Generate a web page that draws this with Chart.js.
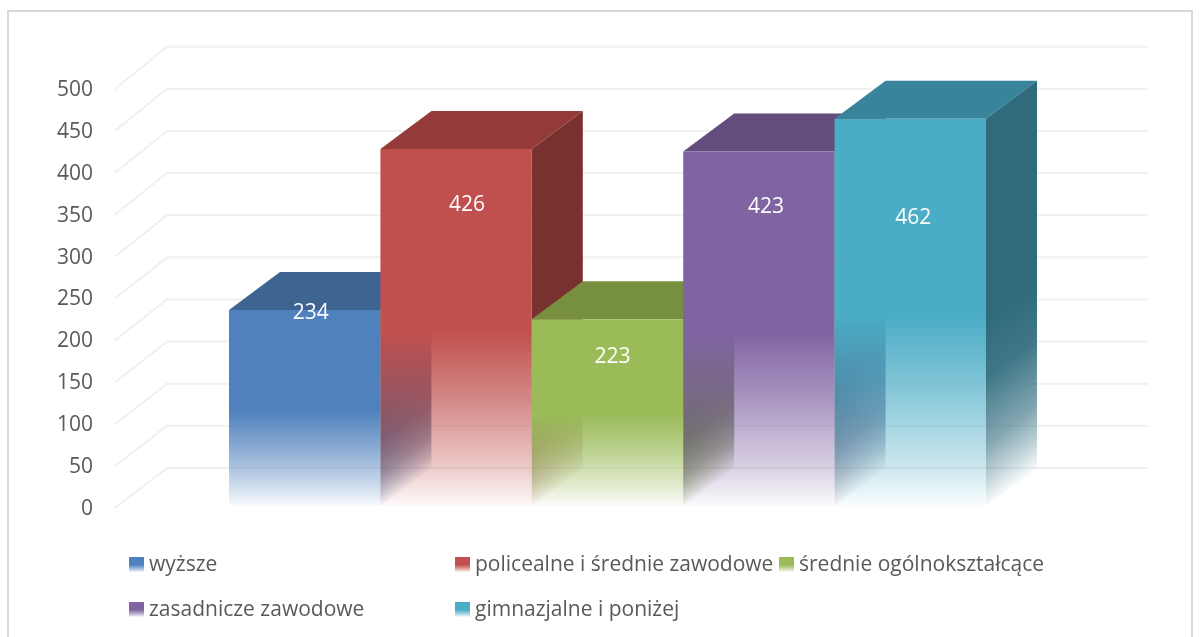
<!DOCTYPE html>
<html lang="pl">
<head>
<meta charset="utf-8">
<style>html,body{margin:0;padding:0;background:#fff}canvas{display:block}</style>
<script src="https://cdn.jsdelivr.net/npm/chart.js@4"></script>
</head>
<body>
<canvas id="c" width="1200" height="637"></canvas>
<script>
const categories = [""];
const seriesNames = ["wyższe", "policealne i średnie zawodowe", "średnie ogólnokształcące", "zasadnicze zawodowe", "gimnazjalne i poniżej"];
const seriesValues = [234, 426, 223, 423, 462];
const frontColors = ["79,129,189", "192,80,77", "155,187,89", "128,100,162", "75,172,198"];
const topColors = ["#3e6491", "#943b39", "#76903f", "#624d7d", "#38849a"];
const sideColors = ["#3a5f8b", "#78312f", "#61763a", "#4f3e66", "#2f6b7d"];
const tickStep = 50, axisMax = 500;

const DX = 51, DY = -38;
const labelShift = [[6, 3], [11, 56], [5, 38], [7, 55], [3, 99]];
const legendSlots = [[129, 564], [455, 564], [779, 564], [129, 609], [455, 609]];
const FONT = '"Open Sans", sans-serif';
const FRONT_STOPS = [[0, 1], [0.51, 1], [0.7, 0.68], [0.89, 0.3], [1, 0.03]];
const SIDE_STOPS = [[0, 1], [0.51, 1], [0.67, 0.92], [0.84, 0.6], [0.93, 0.3], [1, 0.03]];

function fade(ctx, y0, y1, rgb, stops) {
  const g = ctx.createLinearGradient(0, y0, 0, y1);
  stops.forEach(s => g.addColorStop(s[0], `rgba(${rgb},${s[1]})`));
  return g;
}
function hexToRgb(h) {
  const n = parseInt(h.slice(1), 16);
  return [(n >> 16) & 255, (n >> 8) & 255, n & 255].join(",");
}
function drawDepth(chart, i) {
  const ctx = chart.ctx, b = chart.getDatasetMeta(i).data[0];
  const l = b.x - b.width / 2, r = b.x + b.width / 2, t = b.y, h = b.base - b.y;
  ctx.save();
  ctx.fillStyle = topColors[i];
  ctx.beginPath();
  ctx.moveTo(l, t); ctx.lineTo(r, t); ctx.lineTo(r + DX, t + DY); ctx.lineTo(l + DX, t + DY);
  ctx.closePath(); ctx.fill();
  ctx.transform(1, DY / DX, 0, 1, r, t);
  ctx.fillStyle = fade(ctx, 0, h, hexToRgb(sideColors[i]), SIDE_STOPS);
  ctx.fillRect(0, 0, DX, h);
  ctx.restore();
}

const scene3d = {
  id: "scene3d",
  afterLayout(chart) {
    const s = chart.scales.y;
    if (s._shifted) return;
    s._shifted = true;
    const orig = s.drawLabels;
    s.drawLabels = function (area) {
      this.ctx.save();
      this.ctx.translate(0, 3);
      orig.call(this, area);
      this.ctx.restore();
    };
  },
  beforeDraw(chart) {
    const ctx = chart.ctx, y = chart.scales.y, a = chart.chartArea;
    ctx.save();
    ctx.strokeStyle = "#d9d9d9"; ctx.lineWidth = 2;
    ctx.strokeRect(8, 11, 1184, 700);
    ctx.strokeStyle = "#f0f0f0"; ctx.lineWidth = 2;
    y.ticks.forEach(t => {
      const p = y.getPixelForValue(t.value);
      const back = p + DY - (t.value / axisMax) * 2.3;
      ctx.beginPath();
      ctx.moveTo(a.left - 3, p + 2);
      ctx.lineTo(a.left + 49, back);
      ctx.lineTo(a.right + DX, back);
      ctx.stroke();
    });
    ctx.restore();
  },
  beforeDatasetsDraw(chart) {
    seriesNames.forEach((n, i) => {
      drawDepth(chart, i);
      chart.getDatasetMeta(i).controller.draw();
    });
    return false;
  },
  afterDraw(chart) {
    const ctx = chart.ctx;
    ctx.save();
    ctx.font = "21px " + FONT;
    ctx.textBaseline = "middle";
    seriesValues.forEach((v, i) => {
      const b = chart.getDatasetMeta(i).data[0];
      ctx.fillStyle = "#ffffff";
      ctx.textAlign = "center";
      ctx.fillText(String(v), b.x + labelShift[i][0], b.y + labelShift[i][1]);
    });
    seriesNames.forEach((n, i) => {
      const [x, y] = legendSlots[i];
      ctx.fillStyle = fade(ctx, y - 7, y + 8, frontColors[i], FRONT_STOPS);
      ctx.fillRect(x, y - 7, 15, 15);
      ctx.fillStyle = "#595959";
      ctx.textAlign = "left";
      ctx.fillText(n, x + 20, y + 1);
    });
    ctx.restore();
  }
};

function barGradient(c, i, stops) {
  const y = c.chart.scales.y;
  if (!c.chart.chartArea) return `rgb(${frontColors[i]})`;
  return fade(c.chart.ctx, y.getPixelForValue(seriesValues[i]), y.getPixelForValue(0), frontColors[i], stops);
}

new Chart(document.getElementById("c"), {
  type: "bar",
  data: {
    labels: categories,
    datasets: seriesNames.map((n, i) => ({
      label: n,
      data: [seriesValues[i]],
      borderWidth: 0,
      backgroundColor: c => barGradient(c, i, FRONT_STOPS)
    }))
  },
  plugins: [scene3d],
  options: {
    responsive: false,
    animation: false,
    devicePixelRatio: 1,
    layout: { padding: { top: 87, bottom: 131, right: 103, left: 0 } },
    datasets: { bar: { barPercentage: 1, categoryPercentage: 0.7732 } },
    plugins: { legend: { display: false }, tooltip: { enabled: false }, title: { display: false } },
    scales: {
      x: { display: false },
      y: {
        min: 0, max: axisMax,
        ticks: { stepSize: tickStep, padding: 17, color: "#595959", font: { family: FONT, size: 21 } },
        grid: { display: false },
        border: { display: false },
        afterFit: s => { s.width = 118; }
      }
    }
  }
});
</script>
</body>
</html>
